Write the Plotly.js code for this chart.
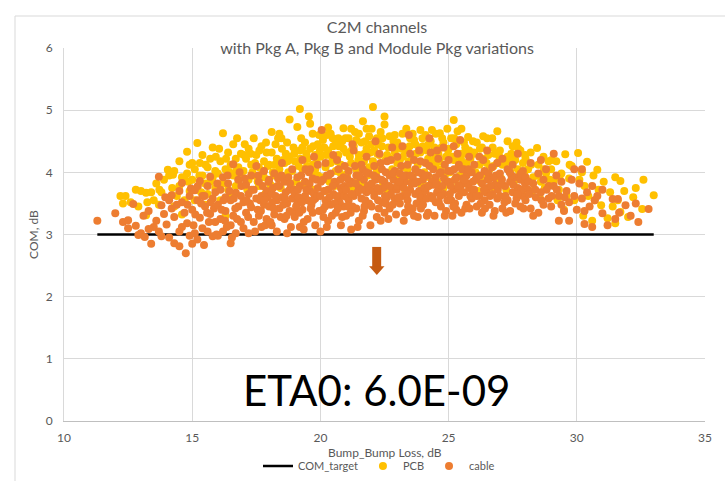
<!DOCTYPE html>
<html>
<head>
<meta charset="utf-8">
<script src="https://cdn.plot.ly/plotly-3.0.1.min.js"></script>
<style>html,body{margin:0;padding:0;background:#fff;}#chart{width:725px;height:481px;}</style>
</head>
<body>
<div id="chart"></div>
<script>
// COM target line
const targetLoss = [11.3, 33.0];
const targetCom = [3, 3];

// PCB channels: [Bump_Bump loss dB, COM dB]
const pcbPoints = [
[12.2,3.62],[12.3,3.5],[12.4,3.62],[12.6,3.52],[12.8,3.72],[12.9,3.45],
[13.0,3.7],[13.2,3.67],[13.25,3.52],[13.2,3.31],[13.4,3.68],[13.5,3.55],[13.6,3.82],[13.7,3.48],[13.8,3.68],[13.9,3.88],[13.72,3.72],
[14.05,4.04],[14.1,3.95],[14.25,3.96],[14.3,4.02],[14.4,3.62],[14.5,4.18],[14.5,3.78],[14.6,3.92],[14.8,4.33],[14.7,3.55],[14.8,3.98],[14.9,4.12],[14.9,3.70],[14.3,3.45],[14.6,3.32],[14.85,3.85],[14.72,3.88],[14.22,3.75],
[15.0,3.88],[15.0,4.15],[15.1,4.05],[15.2,4.47],[15.2,3.72],[15.3,4.15],[15.4,3.95],[15.4,4.28],[15.5,3.82],[15.6,4.08],[15.6,3.65],[15.7,4.22],[15.8,3.92],[15.8,4.40],[15.9,4.02],[15.1,3.55],[15.5,3.48],[15.9,3.75],[15.35,3.68],[15.7,3.85],[15.52,4.12],[15.92,4.25],[15.28,3.95],
[16.0,3.98],[16.1,4.18],[16.2,4.63],[16.2,3.82],[16.3,4.05],[16.4,4.32],[16.4,3.72],[16.5,4.12],[16.6,3.95],[16.6,4.45],[16.7,4.22],[16.8,3.88],[16.8,4.08],[16.9,4.30],[16.1,3.55],[16.3,3.3],[16.5,3.65],[16.7,3.78],[16.9,3.92],[16.45,4.0],[16.05,4.38],[16.75,4.55],[16.32,4.22],[16.72,4.02],[16.02,3.75],
[17.0,4.02],[17.1,4.22],[17.2,4.38],[17.2,3.88],[17.3,4.12],[17.4,4.55],[17.4,3.95],[17.5,4.28],[17.6,4.08],[17.6,3.78],[17.7,4.42],[17.8,4.18],[17.8,3.92],[17.9,4.32],[17.15,3.72],[17.35,4.0],[17.55,3.85],[17.75,4.02],[17.95,4.1],[17.05,4.45],[17.45,4.15],[17.85,3.65],[17.02,4.28],[17.28,4.3],[17.62,4.35],[17.88,4.48],
[18.0,4.12],[18.1,4.65],[18.1,4.32],[18.2,3.95],[18.3,4.22],[18.4,4.62],[18.4,4.05],[18.5,4.38],[18.6,4.15],[18.6,3.88],[18.7,4.48],[18.8,4.85],[18.8,4.25],[18.9,4.02],[18.05,3.8],[18.25,4.45],[18.45,3.75],[18.55,4.2],[18.65,4.3],[18.75,4.0],[18.95,4.4],[18.15,4.0],[18.35,4.55],[18.85,3.78],[18.22,4.12],[18.48,4.55],[18.72,4.18],[18.98,4.3],
[19.0,4.18],[19.1,4.73],[19.2,5.02],[19.2,4.35],[19.3,4.05],[19.4,4.48],[19.5,4.22],[19.55,4.9],[19.6,4.38],[19.7,4.12],[19.7,4.62],[19.8,4.28],[19.9,4.45],[19.9,3.95],[19.05,3.85],[19.15,4.1],[19.25,4.55],[19.35,3.82],[19.45,4.3],[19.65,4.0],[19.75,3.72],[19.85,4.15],[19.95,4.6],[19.3,4.4],[19.6,4.78],[19.8,4.05],[19.22,4.22],[19.48,4.1],[19.72,4.42],[19.98,4.35],
[20.0,4.25],[20.1,4.52],[20.2,4.08],[20.3,4.35],[20.4,4.62],[20.4,4.15],[20.5,4.42],[20.6,4.02],[20.7,4.55],[20.7,4.28],[20.8,4.12],[20.9,4.71],[20.9,4.38],[20.05,3.92],[20.15,4.4],[20.25,4.6],[20.35,3.85],[20.45,4.25],[20.55,3.78],[20.65,4.18],[20.75,4.0],[20.85,4.5],[20.95,3.95],[20.3,4.72],[20.6,4.45],[20.2,3.7],[20.22,4.28],[20.48,4.55],[20.72,4.42],[20.98,4.55],
[21.0,4.32],[21.1,4.55],[21.2,4.7],[21.2,4.15],[21.3,4.42],[21.4,4.05],[21.5,4.62],[21.5,4.28],[21.6,4.48],[21.66,4.82],[21.7,4.18],[21.8,4.38],[21.9,4.58],[21.9,4.08],[21.05,3.98],[21.15,4.25],[21.35,4.65],[21.45,3.88],[21.55,4.12],[21.75,4.5],[21.85,3.95],[21.95,4.32],[21.25,3.75],[21.65,3.8],[21.4,4.52],[21.8,4.7],[21.22,4.35],[21.48,4.2],[21.72,4.3],[21.98,4.45],
[22.0,4.7],[22.05,5.05],[22.1,4.35],[22.2,4.55],[22.3,4.12],[22.4,4.42],[22.5,4.9],[22.5,4.77],[22.6,4.28],[22.7,4.58],[22.8,4.05],[22.9,4.6],[22.9,4.32],[22.05,4.18],[22.15,3.9],[22.25,4.45],[22.35,4.65],[22.45,3.82],[22.55,4.2],[22.65,4.4],[22.75,3.75],[22.85,4.5],[22.95,4.0],[22.3,4.28],[22.6,3.7],[22.2,4.02],[22.22,4.3],[22.42,4.55],[22.72,4.22],[22.98,4.42],
[23.0,4.48],[23.1,4.2],[23.2,4.62],[23.3,4.35],[23.4,4.05],[23.5,4.55],[23.6,4.25],[23.7,4.45],[23.8,4.12],[23.9,4.68],[23.9,4.32],[23.05,3.95],[23.15,4.38],[23.25,4.08],[23.35,4.7],[23.45,4.18],[23.55,3.85],[23.65,4.52],[23.75,4.0],[23.85,4.4],[23.95,3.78],[23.3,3.72],[23.6,4.62],[23.0,4.15],[23.22,4.25],[23.48,4.42],[23.72,4.3],[23.98,4.55],
[24.0,4.42],[24.1,4.6],[24.2,4.22],[24.3,4.5],[24.4,4.15],[24.5,4.62],[24.6,4.3],[24.66,4.63],[24.7,4.05],[24.8,4.48],[24.9,4.25],[24.05,4.0],[24.15,4.35],[24.25,3.92],[24.35,4.68],[24.45,4.4],[24.55,3.85],[24.65,4.18],[24.75,4.55],[24.85,3.95],[24.95,4.7],[24.2,3.78],[24.5,4.08],[24.8,3.75],[24.22,4.45],[24.48,4.25],[24.72,4.4],[24.98,4.35],
[25.0,4.38],[25.1,4.55],[25.2,4.84],[25.2,4.2],[25.3,4.45],[25.35,4.66],[25.4,4.1],[25.5,4.7],[25.5,4.3],[25.6,4.48],[25.7,4.15],[25.76,4.57],[25.8,4.35],[25.9,4.05],[25.05,4.0],[25.15,4.25],[25.25,3.88],[25.45,3.95],[25.55,4.15],[25.65,4.4],[25.85,4.22],[25.95,4.5],[25.3,3.75],[25.7,3.82],[25.22,4.55],[25.48,4.22],[25.72,4.3],[25.98,4.32],
[26.0,4.3],[26.1,4.48],[26.2,4.12],[26.3,4.4],[26.4,4.22],[26.5,4.55],[26.6,4.05],[26.7,4.55],[26.8,4.3],[26.9,4.66],[26.9,4.15],[26.05,4.0],[26.25,3.85],[26.35,4.58],[26.45,3.95],[26.55,4.28],[26.65,3.75],[26.75,4.1],[26.85,3.9],[26.15,3.7],[26.22,4.38],[26.48,4.15],[26.72,4.4],[26.98,4.25],
[27.0,4.35],[27.1,4.12],[27.3,4.5],[27.3,4.25],[27.4,4.02],[27.5,4.42],[27.6,4.2],[27.7,4.05],[27.8,4.35],[27.9,4.15],[27.05,3.9],[27.25,3.72],[27.45,4.3],[27.55,3.85],[27.65,4.48],[27.75,3.95],[27.85,3.7],[27.95,4.0],[27.22,4.15],[27.48,4.2],[27.72,4.38],[27.98,4.28],
[28.0,4.22],[28.1,4.05],[28.2,4.32],[28.3,3.92],[28.45,4.39],[28.5,4.12],[28.6,3.85],[28.7,4.25],[28.8,3.98],[28.9,4.18],[28.25,3.7],[28.55,3.6],[28.75,3.75],[28.95,3.88],[28.22,4.12],[28.48,3.95],[28.72,4.05],
[29.0,4.05],[29.1,3.85],[29.2,4.18],[29.3,3.72],[29.4,3.98],[29.55,4.29],[29.6,3.62],[29.7,3.9],[29.8,4.1],[29.9,3.55],[29.5,3.4],[29.25,3.55],[29.02,4.2],[29.32,3.92],[29.72,4.12],
[30.05,4.31],[30.1,3.88],[30.25,3.3],[30.4,4.17],[30.45,3.62],[30.6,3.22],[30.65,3.95],[30.8,4.04],[30.85,3.72],[30.95,3.47],[30.3,3.78],[30.7,3.55],[30.2,4.0],
[31.05,3.85],[31.2,3.26],[31.3,3.68],[31.5,3.92],[31.5,3.18],[31.6,3.55],[31.7,3.86],[31.7,3.36],[31.85,3.7],[31.4,3.45],
[32.0,3.28],[32.2,3.6],[32.3,3.75],[32.55,3.41],[32.6,3.88],[33.0,3.63]
];

// cable channels: [Bump_Bump loss dB, COM dB]
const cablePoints = [
[11.3,3.22],[12.0,3.34],
[12.3,3.2],[12.5,3.23],[12.5,3.1],[12.7,3.49],[12.9,2.99],[12.8,3.14],
[13.0,3.02],[13.15,2.96],[13.1,3.30],[13.3,3.38],[13.4,2.85],[13.5,3.12],[13.7,3.93],[13.6,3.22],[13.7,3.05],[13.8,3.47],[13.9,3.33],[13.3,3.09],[13.8,2.97],[13.95,3.6],
[14.0,3.16],[14.1,2.95],[14.2,3.42],[14.2,3.63],[14.3,3.28],[14.3,2.86],[14.5,2.81],[14.5,3.70],[14.5,3.05],[14.6,3.52],[14.75,2.70],[14.7,3.35],[14.8,3.18],[14.9,3.62],[14.9,2.98],[14.6,3.83],[14.6,3.12],[14.4,3.48],[14.95,3.74],[14.1,3.55],[14.82,3.48],
[15.0,3.40],[15.0,2.85],[15.1,3.02],[15.1,3.71],[15.2,2.92],[15.2,3.55],[15.3,3.27],[15.3,3.86],[15.4,3.10],[15.4,3.62],[15.46,2.83],[15.5,3.45],[15.6,3.78],[15.6,3.05],[15.7,3.33],[15.7,3.93],[15.8,2.97],[15.8,3.58],[15.9,3.20],[15.9,3.68],[15.05,3.15],[15.35,3.5],[15.65,3.2],[15.85,3.42],[15.95,3.0],[15.22,3.78],[15.48,3.62],[15.72,3.52],[15.98,3.82],[15.12,3.32],[15.58,3.35],
[16.0,3.48],[16.0,2.98],[16.1,3.72],[16.1,3.25],[16.2,3.92],[16.2,3.05],[16.3,3.60],[16.3,3.38],[16.5,2.86],[16.4,3.82],[16.5,3.15],[16.5,3.55],[16.6,4.13],[16.6,3.30],[16.7,3.67],[16.7,3.02],[16.8,3.45],[16.8,3.88],[16.9,3.20],[16.9,3.62],[16.15,3.4],[16.45,3.7],[16.55,2.95],[16.75,3.25],[16.85,4.0],[16.35,3.12],[16.22,3.55],[16.38,3.95],[16.62,3.58],[16.92,3.78],[16.28,3.22],[16.68,3.42],
[17.0,3.52],[17.0,3.10],[17.1,3.80],[17.1,3.35],[17.2,3.65],[17.2,3.02],[17.3,3.95],[17.3,3.44],[17.4,3.20],[17.4,3.72],[17.5,3.58],[17.5,4.10],[17.6,3.30],[17.6,3.85],[17.7,3.12],[17.7,3.62],[17.8,3.48],[17.8,4.02],[17.9,3.25],[17.9,3.70],[17.05,3.9],[17.25,3.5],[17.45,3.05],[17.55,3.4],[17.65,3.55],[17.75,3.78],[17.85,3.15],[17.95,3.6],[17.12,3.55],[17.32,3.72],[17.58,3.95],[17.82,3.55],[17.98,3.85],[17.18,3.28],[17.68,3.38],
[18.0,3.45],[18.0,3.88],[18.1,3.15],[18.1,3.66],[18.2,3.98],[18.2,3.32],[18.3,3.55],[18.3,3.05],[18.4,3.78],[18.4,3.42],[18.5,4.15],[18.5,3.60],[18.6,3.25],[18.6,3.85],[18.7,3.50],[18.7,3.02],[18.8,3.72],[18.8,3.38],[18.9,4.05],[18.9,3.58],[18.05,3.2],[18.15,3.75],[18.25,3.62],[18.35,3.9],[18.45,3.28],[18.55,3.48],[18.65,3.68],[18.75,3.92],[18.85,3.12],[18.95,3.35],[18.12,3.52],[18.32,3.78],[18.48,3.95],[18.62,3.58],[18.82,3.82],[18.98,3.72],[18.18,3.42],[18.68,3.3],
[19.0,3.65],[19.0,3.28],[19.1,3.92],[19.1,3.50],[19.2,3.12],[19.2,3.78],[19.3,4.20],[19.3,3.40],[19.4,3.62],[19.4,3.85],[19.5,3.25],[19.5,3.55],[19.6,4.05],[19.6,3.70],[19.7,3.35],[19.7,3.90],[19.8,3.58],[19.8,3.15],[19.9,4.12],[19.9,3.75],[19.05,3.45],[19.15,3.6],[19.25,3.95],[19.35,3.2],[19.45,3.72],[19.55,4.0],[19.65,3.48],[19.75,3.65],[19.85,3.88],[19.95,3.38],[19.35,3.08],[19.75,4.25],[19.12,3.72],[19.28,3.52],[19.42,4.05],[19.58,3.82],[19.72,3.55],[19.88,3.62],[19.18,3.35],[19.62,3.42],
[20.0,3.62],[20.0,3.05],[20.05,4.68],[20.1,3.88],[20.1,3.40],[20.2,4.15],[20.2,3.55],[20.3,3.72],[20.3,3.22],[20.4,3.98],[20.4,3.48],[20.5,3.65],[20.5,4.28],[20.6,3.35],[20.6,3.82],[20.7,3.58],[20.7,4.05],[20.8,3.15],[20.8,3.75],[20.9,3.92],[20.9,3.45],[20.15,3.7],[20.25,3.95],[20.35,3.6],[20.45,3.3],[20.55,3.85],[20.65,4.2],[20.75,3.52],[20.85,3.68],[20.95,4.1],[20.25,3.12],[20.55,3.5],[20.85,3.28],[20.95,3.78],[20.02,3.85],[20.18,3.45],[20.32,3.95],[20.48,3.78],[20.62,3.62],[20.78,3.88],[20.92,3.62],[20.12,3.28],[20.68,3.42],
[21.0,3.72],[21.0,3.30],[21.1,4.02],[21.1,3.55],[21.2,3.85],[21.2,3.08],[21.3,4.35],[21.3,3.62],[21.4,3.42],[21.4,3.95],[21.5,3.75],[21.5,3.22],[21.6,4.12],[21.6,3.58],[21.7,3.88],[21.7,3.38],[21.8,3.68],[21.8,4.25],[21.9,3.50],[21.9,3.98],[21.05,3.6],[21.15,3.82],[21.25,3.45],[21.35,4.1],[21.45,3.68],[21.55,3.92],[21.65,3.3],[21.75,3.55],[21.85,3.78],[21.95,3.15],[21.25,4.45],[21.65,4.05],[21.45,3.12],[21.05,3.9],[21.08,3.45],[21.22,3.65],[21.38,3.82],[21.52,3.95],[21.62,3.72],[21.78,4.0],[21.92,3.72],[21.18,3.35],[21.72,3.45],
[22.0,3.82],[22.0,3.45],[22.1,4.10],[22.1,3.62],[22.2,3.28],[22.2,3.92],[22.3,4.30],[22.3,3.70],[22.4,3.52],[22.4,4.05],[22.5,3.85],[22.5,3.35],[22.6,4.18],[22.6,3.60],[22.7,3.95],[22.7,3.42],[22.8,3.75],[22.8,4.40],[22.9,3.58],[22.9,4.02],[22.05,3.7],[22.15,3.88],[22.25,3.55],[22.35,4.15],[22.45,3.75],[22.55,4.0],[22.65,3.25],[22.75,3.65],[22.85,3.88],[22.95,3.32],[22.35,3.22],[22.75,4.2],[22.15,4.5],[22.55,3.5],[22.08,3.95],[22.22,3.75],[22.38,3.88],[22.52,3.62],[22.68,3.78],[22.82,3.98],[22.98,3.72],[22.28,3.42],[22.82,3.48],
[23.0,3.78],[23.0,4.25],[23.1,3.50],[23.1,3.98],[23.2,3.62],[23.2,4.42],[23.3,3.35],[23.3,3.85],[23.4,4.12],[23.4,3.55],[23.5,3.72],[23.5,4.30],[23.6,3.42],[23.6,3.92],[23.7,4.05],[23.7,3.65],[23.8,3.28],[23.8,3.85],[23.9,4.18],[23.9,3.58],[23.05,3.6],[23.15,4.1],[23.25,3.75],[23.35,3.95],[23.45,3.38],[23.55,3.82],[23.65,4.2],[23.75,3.5],[23.85,3.7],[23.95,3.98],[23.25,3.22],[23.65,3.3],[23.45,4.6],[23.85,4.35],[23.08,3.85],[23.22,3.95],[23.38,3.65],[23.52,3.95],[23.68,3.82],[23.82,4.0],[23.98,3.62],[23.42,3.45],[23.92,3.42],
[24.0,3.88],[24.0,3.48],[24.1,4.15],[24.1,3.70],[24.2,3.35],[24.2,3.95],[24.3,4.32],[24.3,3.62],[24.4,3.80],[24.4,4.05],[24.5,3.52],[24.5,3.92],[24.6,4.22],[24.6,3.72],[24.7,3.45],[24.7,4.00],[24.8,3.65],[24.8,4.40],[24.9,3.85],[24.9,3.38],[24.05,3.75],[24.15,3.58],[24.25,4.1],[24.35,3.85],[24.45,3.3],[24.55,3.68],[24.65,3.98],[24.75,3.78],[24.85,4.12],[24.95,3.55],[24.25,4.55],[24.55,4.35],[24.15,3.3],[24.85,3.3],[24.08,3.95],[24.22,3.78],[24.38,3.58],[24.52,3.82],[24.68,3.62],[24.82,3.9],[24.98,4.02],[24.62,3.52],
[25.0,3.85],[25.0,4.20],[25.1,3.55],[25.1,4.02],[25.2,3.72],[25.2,4.42],[25.3,3.40],[25.3,3.92],[25.4,4.12],[25.4,3.62],[25.5,3.80],[25.5,3.35],[25.6,4.05],[25.6,3.68],[25.7,3.95],[25.7,3.48],[25.8,4.25],[25.8,3.75],[25.9,3.58],[25.9,4.0],[25.05,3.65],[25.15,3.3],[25.25,3.88],[25.35,4.3],[25.45,3.72],[25.55,3.9],[25.65,3.42],[25.75,3.82],[25.85,3.62],[25.95,3.85],[25.45,4.52],[25.25,3.5],[25.08,3.78],[25.22,4.05],[25.38,3.78],[25.52,4.05],[25.62,3.88],[25.78,4.05],[25.92,3.72],[25.18,3.45],[25.82,3.42],
[26.0,3.72],[26.0,4.12],[26.1,3.45],[26.1,3.92],[26.2,4.25],[26.2,3.62],[26.3,3.82],[26.3,3.35],[26.4,4.02],[26.4,3.55],[26.5,3.75],[26.5,4.35],[26.6,3.48],[26.6,3.90],[26.7,3.65],[26.7,4.08],[26.8,3.38],[26.8,3.80],[26.9,4.15],[26.9,3.58],[26.05,3.88],[26.25,3.5],[26.45,3.68],[26.55,3.98],[26.75,3.3],[26.85,3.95],[26.35,4.2],[26.65,3.78],[26.08,3.62],[26.22,3.95],[26.38,3.72],[26.52,3.88],[26.62,3.62],[26.78,3.92],[26.92,3.72],[26.42,3.42],
[27.0,3.62],[27.0,3.98],[27.1,3.42],[27.1,4.22],[27.2,3.78],[27.3,3.55],[27.3,4.05],[27.4,3.85],[27.4,3.38],[27.5,3.68],[27.5,4.12],[27.6,3.50],[27.6,3.92],[27.7,3.75],[27.7,4.30],[27.8,3.45],[27.8,3.88],[27.9,3.62],[27.9,4.02],[27.05,3.8],[27.25,3.35],[27.45,3.95],[27.65,3.58],[27.85,3.72],[27.08,3.88],[27.22,3.62],[27.38,4.0],[27.52,3.8],[27.68,3.65],[27.82,3.98],[27.98,3.82],[27.18,3.52],[27.92,3.42],
[28.0,3.55],[28.0,3.92],[28.1,3.72],[28.2,4.15],[28.2,3.42],[28.3,3.82],[28.4,3.60],[28.5,3.35],[28.5,3.98],[28.6,3.68],[28.7,3.88],[28.7,3.48],[28.8,4.05],[28.9,3.58],[28.9,3.78],[28.3,3.3],[28.6,4.2],[28.15,3.65],[28.12,3.85],[28.38,3.72],[28.62,3.55],[28.82,3.72],
[29.0,3.45],[29.1,4.3],[29.1,3.78],[29.2,3.95],[29.3,3.22],[29.3,3.62],[29.4,3.85],[29.5,3.38],[29.6,3.70],[29.7,3.22],[29.7,3.52],[29.8,3.88],[29.9,4.05],[29.9,3.62],[29.4,3.48],[29.02,3.62],[29.22,3.72],[29.52,3.6],
[30.0,3.40],[30.2,4.05],[30.1,3.82],[30.2,3.58],[30.3,3.17],[30.4,3.68],[30.5,3.45],[30.6,3.78],[30.6,3.12],[30.7,3.55],[30.8,3.62],[30.3,3.38],
[31.0,3.34],[31.0,3.72],[31.4,3.57],[31.5,3.25],[31.6,3.57],[31.65,3.35],[31.9,3.47],[31.2,3.15],
[32.1,3.30],[32.3,3.50],[32.4,3.2],[32.8,3.41]
];

const pcbLoss = pcbPoints.map(p => p[0]);
const pcbCom = pcbPoints.map(p => p[1]);
const cableLoss = cablePoints.map(p => p[0]);
const cableCom = cablePoints.map(p => p[1]);

const xTicks = [10, 15, 20, 25, 30, 35];
const yTicks = [0, 1, 2, 3, 4, 5, 6];

const FONT = 'Lato, "Open Sans", sans-serif';
const GREY = '#595959';

const traces = [
  {x: targetLoss, y: targetCom, name: 'COM_target', type: 'scatter', mode: 'lines',
   line: {color: '#000000', width: 2.5}},
  {x: pcbLoss, y: pcbCom, name: 'PCB', type: 'scatter', mode: 'markers',
   marker: {color: '#FFC000', size: 8}},
  {x: cableLoss, y: cableCom, name: 'cable', type: 'scatter', mode: 'markers',
   marker: {color: '#ED7D31', size: 8}}
];

const layout = {
  width: 725, height: 481,
  margin: {l: 64, r: 20, t: 48, b: 60},
  paper_bgcolor: '#ffffff', plot_bgcolor: '#ffffff',
  font: {family: FONT, color: GREY, size: 12},
  title: {text: 'C2M channels<br>with Pkg A, Pkg B and Module Pkg variations',
          font: {family: FONT, size: 16, color: GREY},
          x: 377/725, xref: 'container', xanchor: 'center',
          y: 1 - 33/481, yref: 'container', yanchor: 'middle'},
  xaxis: {range: [10, 35], tickvals: xTicks, showgrid: true, gridcolor: '#D9D9D9', gridwidth: 1,
          zeroline: false, showline: true, linecolor: '#BFBFBF', linewidth: 1, ticks: '',
          tickfont: {family: FONT, size: 12, color: GREY}, ticklabelstandoff: 6},
  yaxis: {range: [0, 6], tickvals: yTicks, showgrid: true, gridcolor: '#D9D9D9', gridwidth: 1,
          zeroline: false, showline: true, linecolor: '#D9D9D9', linewidth: 1, ticks: '',
          tickfont: {family: FONT, size: 12, color: GREY}, ticklabelstandoff: 8,
          title: {text: 'COM, dB', font: {family: FONT, size: 12, color: GREY}, standoff: 4}},
  showlegend: true,
  legend: {orientation: 'h', x: 379/725, xref: 'container', xanchor: 'center',
           y: 15/481, yref: 'container', yanchor: 'middle',
           font: {family: FONT, size: 11, color: GREY}, itemwidth: 30, tracegroupgap: 0},
  shapes: [
    {type: 'line', xref: 'paper', yref: 'paper', x0: (15-64)/641, x1: (15-64)/641, y0: (421-16)/373, y1: (421-481)/373,
     line: {color: '#D9D9D9', width: 1}},
    {type: 'line', xref: 'paper', yref: 'paper', x0: (15-64)/641, x1: (725-64)/641, y0: (421-16)/373, y1: (421-16)/373,
     line: {color: '#D9D9D9', width: 1}},
    {type: 'rect', xref: 'x', yref: 'y', x0: 22.02, x1: 22.37, y0: 2.47, y1: 2.8,
     fillcolor: '#C55A11', line: {width: 0}},
    {type: 'path', xref: 'x', yref: 'y', path: 'M 21.9 2.49 L 22.5 2.49 L 22.2 2.35 Z',
     fillcolor: '#C55A11', line: {width: 0}}
  ],
  annotations: [
    {text: 'ETA0: 6.0E-09', x: 22.2, y: 0.5, xref: 'x', yref: 'y', showarrow: false,
     font: {family: FONT, size: 42, color: '#000000'}, xanchor: 'center', yanchor: 'middle'},
    {text: 'Bump_Bump Loss, dB', x: 0.5, y: (421-452)/373, xref: 'paper', yref: 'paper', showarrow: false,
     font: {family: FONT, size: 12, color: GREY}, xanchor: 'center', yanchor: 'middle'}
  ]
};

Plotly.newPlot('chart', traces, layout, {displayModeBar: false, staticPlot: true});
</script>
</body>
</html>
